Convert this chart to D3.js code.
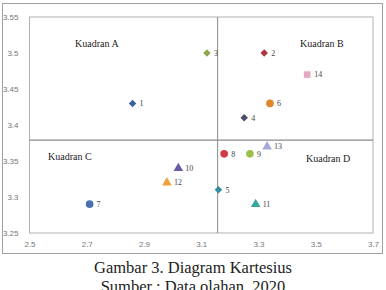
<!DOCTYPE html>
<html>
<head>
<meta charset="utf-8">
<script src="https://cdn.jsdelivr.net/npm/d3@7"></script>
<style>
  body { margin: 0; background: #fff; }
  svg { display: block; }
</style>
</head>
<body>
<svg class="chart" width="386" height="290"></svg>
<script>
// data
const ids = ["1", "2", "3", "4", "5", "6", "7", "8", "9", "10", "11", "12", "13", "14"];
const xValues = [2.86, 3.32, 3.12, 3.25, 3.16, 3.34, 2.71, 3.18, 3.27, 3.02, 3.29, 2.98, 3.33, 3.47];
const yValues = [3.43, 3.50, 3.50, 3.41, 3.31, 3.43, 3.29, 3.36, 3.36, 3.34, 3.29, 3.32, 3.37, 3.47];
const shapes = ["diamond", "diamond", "diamond", "diamond", "diamond", "circle", "circle", "circle", "circle", "triangle", "triangle", "triangle", "triangle", "square"];
const colors = ["#3f5f9f", "#b0343f", "#8da64a", "#4f4a68", "#2f8fa0", "#e0852a", "#4a72b0", "#cf3a44", "#9cc04a", "#6c5aa8", "#33a8a0", "#f0a23a", "#a9a9d9", "#e2aac2"];
const xTicks = [2.5, 2.7, 2.9, 3.1, 3.3, 3.5, 3.7];
const yTicks = [3.25, 3.3, 3.35, 3.4, 3.45, 3.5, 3.55];
const xMean = 3.157;
const yMean = 3.379;
const quadrants = ["Kuadran A", "Kuadran B", "Kuadran C", "Kuadran D"];

const svg = d3.select(".chart");

// outer frame
svg.append("rect")
  .attr("x", 2.5).attr("y", 3.5)
  .attr("width", 380).attr("height", 250)
  .attr("fill", "none")
  .attr("stroke", "#a0a0a0");

const plotLeft = 29.5, plotRight = 373, plotTop = 17, plotBottom = 233;

const xScale = d3.scaleLinear().domain([2.5, 3.7]).range([plotLeft, plotRight]);
const yScale = d3.scaleLinear().domain([3.25, 3.55]).range([plotBottom, plotTop]);

// plot area border
svg.append("rect")
  .attr("x", plotLeft).attr("y", plotTop)
  .attr("width", plotRight - plotLeft).attr("height", plotBottom - plotTop)
  .attr("fill", "none")
  .attr("stroke", "#b0b0b0");

// x axis labels
svg.append("g")
  .attr("transform", `translate(0, ${plotBottom})`)
  .call(d3.axisBottom(xScale).tickValues(xTicks).tickFormat(d3.format("")).tickSize(0).tickPadding(8))
  .call(g => g.select(".domain").remove())
  .selectAll("text")
  .attr("fill", "#777")
  .style("font-family", "Liberation Sans")
  .style("font-size", "8px");

// y axis labels
svg.append("g")
  .attr("transform", `translate(${plotLeft}, 0)`)
  .call(d3.axisLeft(yScale).tickValues(yTicks).tickFormat(d3.format("")).tickSize(0).tickPadding(11))
  .call(g => g.select(".domain").remove())
  .selectAll("text")
  .attr("fill", "#777")
  .style("font-family", "Liberation Sans")
  .style("font-size", "8px");

// mean lines
svg.append("line")
  .attr("x1", xScale(xMean)).attr("x2", xScale(xMean))
  .attr("y1", plotTop).attr("y2", plotBottom)
  .attr("stroke", "#9a9a9a").attr("stroke-width", 1.2);
svg.append("line")
  .attr("x1", plotLeft).attr("x2", plotRight)
  .attr("y1", yScale(yMean)).attr("y2", yScale(yMean))
  .attr("stroke", "#8a8a8a").attr("stroke-width", 1.2);

// quadrant labels
const quadPos = [[75, 47], [300, 47], [48, 160], [306, 162]];
svg.selectAll(".quad")
  .data(quadrants)
  .enter()
  .append("text")
  .attr("x", (d, i) => quadPos[i][0])
  .attr("y", (d, i) => quadPos[i][1])
  .style("font-family", "Liberation Serif")
  .style("font-size", "10px")
  .attr("fill", "#222")
  .text(d => d);

// points
const symbolType = {
  diamond: d3.symbolSquare,
  circle: d3.symbolCircle,
  triangle: d3.symbolTriangle,
  square: d3.symbolSquare
};
const symbolSize = { diamond: 28, circle: 46, triangle: 40, square: 44 };

const pts = svg.selectAll(".pt")
  .data(ids)
  .enter()
  .append("g")
  .attr("transform", (d, i) => `translate(${xScale(xValues[i])}, ${yScale(yValues[i])})`);

pts.append("path")
  .attr("d", (d, i) => d3.symbol().type(symbolType[shapes[i]]).size(symbolSize[shapes[i]])())
  .attr("transform", (d, i) => shapes[i] === "diamond" ? "rotate(45)" : null)
  .attr("fill", (d, i) => colors[i]);

pts.append("text")
  .attr("x", 7)
  .attr("dy", "0.35em")
  .style("font-family", "Liberation Serif")
  .style("font-size", "8px")
  .attr("fill", "#444")
  .text(d => d);

// caption
svg.append("text")
  .attr("x", 193).attr("y", 273)
  .attr("text-anchor", "middle")
  .style("font-family", "Liberation Serif")
  .style("font-size", "16.5px")
  .attr("fill", "#222")
  .text("Gambar 3. Diagram Kartesius");
svg.append("text")
  .attr("x", 193).attr("y", 292)
  .attr("text-anchor", "middle")
  .style("font-family", "Liberation Serif")
  .style("font-size", "16.5px")
  .attr("fill", "#222")
  .text("Sumber : Data olahan, 2020");
</script>
</body>
</html>
